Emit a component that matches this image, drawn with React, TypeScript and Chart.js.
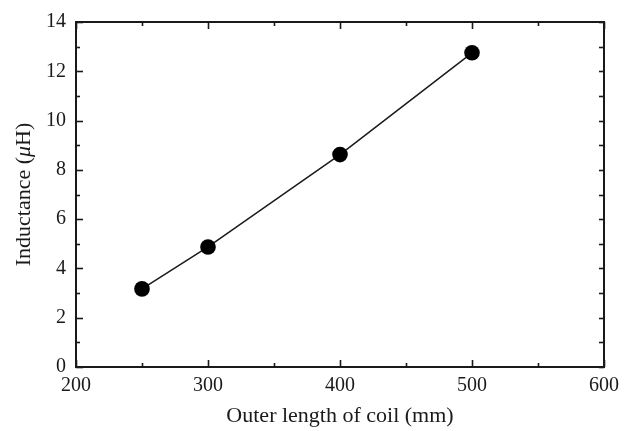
import React, { useEffect, useRef } from "react";
import { Chart, registerables } from "chart.js";

Chart.register(...registerables);

const coilLengths = [250, 300, 400, 500];
const inductanceValues = [3.17, 4.87, 8.62, 12.75];
const xTitle = "Outer length of coil (mm)";
const yTitleParts = [
  { text: "Inductance (", italic: false },
  { text: "μ", italic: true },
  { text: "H)", italic: false },
];

const FONT = "'Liberation Serif', 'Times New Roman', serif";
const INK = "#1a1a1a";

const frameAndTicks = {
  id: "frameAndTicks",
  afterDatasetsDraw(chart: any) {
    const { ctx, chartArea, scales } = chart;
    const { left, right, top, bottom } = chartArea;
    const xs = scales.x;
    const ys = scales.y;
    ctx.save();
    ctx.strokeStyle = INK;
    ctx.lineWidth = 2;
    ctx.strokeRect(left, top, right - left, bottom - top);
    ctx.lineWidth = 1.6;
    const xMajor = xs.ticks.map((t: any) => t.value);
    const yMajor = ys.ticks.map((t: any) => t.value);
    const mids = (arr: number[]) => arr.slice(1).map((v, i) => (v + arr[i]) / 2);
    const line = (x1: number, y1: number, x2: number, y2: number) => {
      ctx.beginPath();
      ctx.moveTo(x1, y1);
      ctx.lineTo(x2, y2);
      ctx.stroke();
    };
    xMajor.forEach((v: number) => {
      const p = Math.round(xs.getPixelForValue(v)) + 0.5;
      line(p, bottom, p, bottom - 7);
      line(p, top, p, top + 7);
    });
    mids(xMajor).forEach((v: number) => {
      const p = Math.round(xs.getPixelForValue(v)) + 0.5;
      line(p, bottom, p, bottom - 4);
      line(p, top, p, top + 4);
    });
    yMajor.forEach((v: number) => {
      const p = Math.round(ys.getPixelForValue(v)) + 0.5;
      line(left, p, left + 7, p);
      line(right, p, right - 5, p);
    });
    mids(yMajor).forEach((v: number) => {
      const p = Math.round(ys.getPixelForValue(v)) + 0.5;
      line(left, p, left + 4, p);
      line(right, p, right - 5, p);
    });
    ctx.restore();
  },
  afterDraw(chart: any) {
    const { ctx, chartArea } = chart;
    const cy = (chartArea.top + chartArea.bottom) / 2;
    ctx.save();
    ctx.translate(24, cy);
    ctx.rotate(-Math.PI / 2);
    ctx.fillStyle = INK;
    ctx.textBaseline = "middle";
    ctx.textAlign = "left";
    const fontFor = (it: boolean) => `${it ? "italic " : ""}22px ${FONT}`;
    let total = 0;
    yTitleParts.forEach((p) => {
      ctx.font = fontFor(p.italic);
      total += ctx.measureText(p.text).width;
    });
    let x = -total / 2;
    yTitleParts.forEach((p) => {
      ctx.font = fontFor(p.italic);
      ctx.fillText(p.text, x, 0);
      x += ctx.measureText(p.text).width;
    });
    ctx.restore();
  },
};

export default function App() {
  const ref = useRef<HTMLCanvasElement>(null);
  useEffect(() => {
    if (!ref.current) return;
    const chart = new Chart(ref.current, {
      type: "line",
      data: {
        datasets: [
          {
            data: coilLengths.map((x, i) => ({ x, y: inductanceValues[i] })),
            borderColor: INK,
            borderWidth: 1.5,
            pointRadius: 7.8,
            pointHoverRadius: 7.8,
            pointBackgroundColor: "#000",
            pointBorderWidth: 0,
            tension: 0,
            fill: false,
          },
        ],
      },
      options: {
        animation: false,
        responsive: false,
        events: [],
        layout: { padding: { top: 15, right: 26, left: 0, bottom: 0 } },
        plugins: { legend: { display: false }, tooltip: { enabled: false } },
        scales: {
          x: {
            type: "linear",
            min: 200,
            max: 600,
            grid: { display: false, drawTicks: false },
            border: { display: false },
            ticks: {
              stepSize: 100,
              padding: 7,
              color: INK,
              font: { family: FONT, size: 20 },
              maxRotation: 0,
            },
            title: {
              display: true,
              text: xTitle,
              color: INK,
              font: { family: FONT, size: 22 },
              padding: { top: 0, bottom: 2 },
            },
            afterFit: (s: any) => {
              s.height = 64;
            },
          },
          y: {
            type: "linear",
            min: 0,
            max: 14,
            grid: { display: false, drawTicks: false },
            border: { display: false },
            ticks: {
              stepSize: 2,
              padding: 10,
              color: INK,
              font: { family: FONT, size: 20 },
            },
            title: { display: false },
            afterFit: (s: any) => {
              s.width = 76;
            },
          },
        },
      },
      plugins: [frameAndTicks],
    });
    return () => chart.destroy();
  }, []);
  return (
    <div style={{ position: "fixed", left: 0, top: 0, width: 630, height: 431, background: "#fff" }}>
      <canvas ref={ref} width={630} height={431} />
    </div>
  );
}
